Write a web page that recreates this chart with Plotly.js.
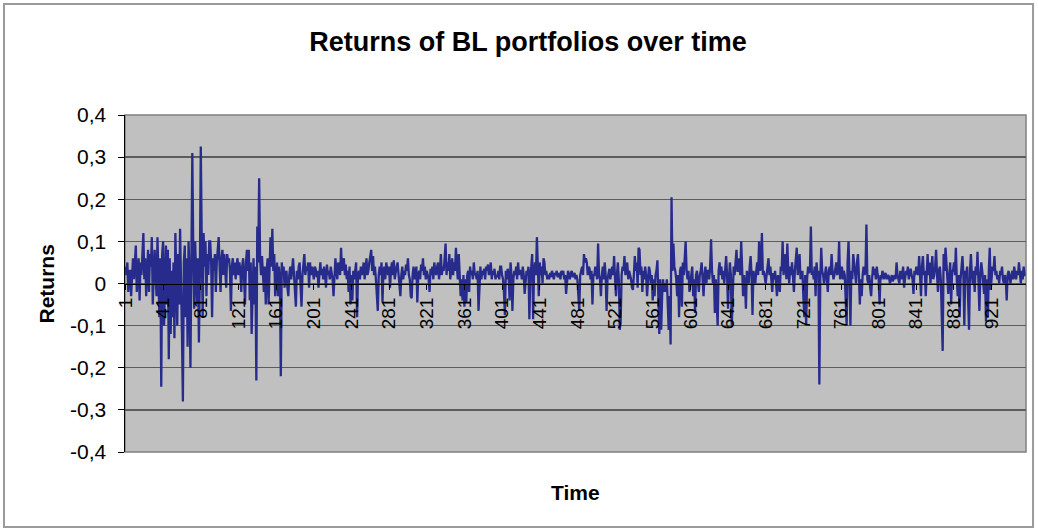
<!DOCTYPE html>
<html>
<head>
<meta charset="utf-8">
<script src="https://cdn.plot.ly/plotly-3.0.1.min.js"></script>
<style>
  html, body { margin: 0; padding: 0; background: #ffffff; }
  #chart { width: 1038px; height: 531px; }
</style>
</head>
<body>
<div id="chart"></div>
<script>
// ---- data ----
const chartTitle = "Returns of BL portfolios over time";
const xTitle = "Time";
const yTitle = "Returns";

const returnsA = [
  0.04, 0.02, 0.05, -0.02, 0.03, 0.03, -0.03, 0.04, 0.06, 0.01,
  0.05, 0.09, -0.02, 0.04, 0.06, -0.04, 0.05, 0.02, 0.07, 0.12,
  0.01, 0.06, -0.03, 0.05, 0.08, -0.02, 0.07, 0.04, 0.11, -0.05,
  0.05, 0.08, 0.02, -0.03, 0.11, 0.02, -0.08, 0.06, -0.245, 0.07,
  0.1, -0.1, 0.04, 0.09, -0.05, 0.08, -0.18, 0.06, -0.12, 0.03,
  -0.08, 0.05, -0.13, 0.12, 0.02, -0.1, 0.07, -0.05, 0.13, 0.04,
  -0.12, -0.28, 0.05, 0.09, -0.08, 0.06, -0.15, 0.1, 0.02, -0.2,
  0.05, 0.31, 0.08, -0.06, 0.1, 0.03, -0.05, 0.06, -0.14, 0.02,
  0.325, 0.1, -0.08, 0.12, 0.04, 0.1, -0.03, 0.07, 0.02, 0.1,
  0.1, 0.05, -0.08, 0.06, 0.03, 0.07, -0.02, 0.05, 0.08, 0.11,
  0.04, -0.02, 0.06, 0.08, 0.02, 0.07, 0.03, -0.01, 0.07, 0.05,
  0.06, 0.03, -0.065, 0.04, 0.06, 0.02, 0.05, 0.01, 0.04, 0.06,
  0.02, 0.05, 0.03, -0.02, 0.04, 0.06, 0.01, -0.05, 0.05, 0.08,
  0.03, 0.08, -0.04, 0.05, -0.12, 0.02, 0.06, -0.05, 0.04, -0.23,
  0.135, 0.05, 0.25, 0.06, 0.02, 0.065, 0.03, -0.02, 0.04, -0.05,
  0.03, 0.06, -0.05, 0.02, 0.11, 0.04, 0.13, 0.03, 0.07, -0.03,
  0.025, 0.05, -0.03, 0.04, 0.01, -0.22, 0.05, 0.02, 0.04, -0.01,
  0.025, 0.03, -0.01, -0.03, 0.02, 0.04, 0.01, 0.03, 0.06, 0.02,
  -0.02, -0.055, 0.03, 0.01, 0.04, 0.05, -0.01, -0.055, 0.02, 0.04,
  0.07, 0.02, 0.04, 0.03, 0.05, -0.01, 0.05, 0.02, 0.04, 0.03
];
const returnsB = [
  0.01, 0.04, 0.035, 0.015, 0.03, -0.01, 0.04, 0.05, 0.02, 0.035,
  0.01, 0.04, 0.02, -0.01, 0.045, 0.02, 0.03, 0.01, 0.04, 0.02,
  0.01, -0.03, 0.02, 0.06, 0.03, 0.01, 0.05, 0.04, 0.02, 0.085,
  0.03, 0.05, 0.06, 0.02, 0.045, 0.01, 0.03, -0.02, 0.04, -0.05,
  0.02, -0.04, 0.03, 0.01, 0.04, 0.05, -0.08, 0.02, 0.03, 0.01,
  0.04, 0.02, 0.03, 0.05, 0.01, 0.04, 0.06, 0.02, 0.03, 0.05,
  0.07, 0.08, 0.03, 0.065, 0.02, 0.04, 0.01, -0.03, -0.065, 0.02,
  0.04, 0.02, 0.05, -0.045, 0.03, 0.04, 0.01, 0.05, 0.03, 0.02,
  0.04, -0.01, 0.03, 0.05, 0.02, 0.055, 0.01, 0.03, 0.04, 0.05,
  0.02, -0.01, -0.03, 0.02, 0.04, 0.01, 0.03, 0.02, 0.045, 0.03,
  0.06, 0.02, 0.01, -0.03, -0.035, 0.02, 0.04, 0.01, 0.03, 0.04,
  -0.045, 0.02, 0.03, 0.01, 0.045, 0.03, 0.06, 0.02, 0.04, 0.01,
  0.03, 0.02, 0.01, -0.02, 0.035, 0.02, 0.04, 0.01, 0.05, 0.03,
  0.02, 0.04, 0.05, 0.01, 0.03, 0.07, 0.02, 0.04, 0.03, 0.06,
  0.095, 0.02, 0.05, 0.03, 0.07, 0.01, 0.04, 0.06, 0.02, 0.05,
  0.03, 0.085, 0.04, 0.01, 0.07, 0.02, -0.03, 0.01, -0.04, 0.02,
  -0.055, 0.01, -0.045, 0.02, 0.03, -0.02, 0.04, 0.02, 0.03, 0.01,
  0.05, 0.02, 0.025, 0.01, 0.03, -0.065, 0.02, 0.04, 0.01, 0.03,
  0.02, 0.035, 0.01, 0.04, 0.03, 0.045, 0.02, 0.03, 0.05, 0.01,
  0.03, 0.02, 0.035, 0.01, 0.02, 0.015, 0.03, 0.01, 0.04, 0.04
];
const returnsC = [
  0.02, 0.01, -0.02, -0.075, 0.03, 0.01, 0.035, 0.02, -0.04, 0.05,
  0.02, -0.065, 0.01, 0.03, 0.02, 0.04, 0.01, 0.05, 0.02, 0.03,
  0.03, 0.01, 0.04, 0.02, -0.025, 0.01, 0.03, 0.02, 0.04, -0.085,
  0.02, 0.04, 0.07, -0.085, 0.03, 0.05, 0.02, 0.11, 0.04, -0.03,
  0.05, 0.02, 0.04, 0.0, 0.06, 0.05, 0.02, 0.03, 0.01, 0.02,
  0.01, 0.025, 0.015, 0.03, 0.02, 0.01, 0.025, 0.02, 0.03, 0.015,
  0.02, 0.025, 0.01, 0.03, 0.02, 0.03, 0.01, 0.02, -0.025, 0.01,
  0.03, 0.02, 0.01, 0.025, 0.03, 0.015, 0.02, 0.025, 0.01, 0.02,
  0.01, -0.05, -0.065, 0.02, 0.03, 0.04, 0.02, 0.07, 0.05, 0.06,
  0.05, 0.02, 0.04, 0.035, 0.01, 0.03, -0.05, 0.02, 0.02, 0.04,
  0.03, 0.01, 0.095, 0.02, 0.01, -0.03, 0.02, 0.04, 0.01, 0.05,
  0.02, -0.065, 0.01, 0.03, 0.035, 0.01, 0.025, 0.04, 0.02, 0.065,
  0.01, -0.03, 0.02, 0.05, 0.01, -0.11, -0.09, 0.02, 0.04, 0.03,
  0.065, 0.02, 0.03, 0.05, 0.01, 0.03, 0.02, 0.01, -0.01, -0.015,
  0.02, 0.065, 0.03, 0.05, -0.01, 0.085, 0.08, 0.02, 0.04, -0.02,
  0.03, 0.01, 0.04, 0.02, -0.03, 0.01, 0.04, 0.03, 0.0, 0.02,
  -0.04, 0.01, -0.03, 0.02, 0.03, 0.055, -0.05, -0.12, 0.01, -0.11,
  -0.03, 0.01, -0.02, 0.0, -0.02, 0.01, -0.05, -0.11, -0.03, -0.145,
  0.205, 0.03, 0.095, 0.04, 0.03, 0.01, -0.03, 0.02, -0.08, 0.03,
  0.04, -0.055, 0.05, 0.02, 0.06, 0.1, 0.03, 0.01, 0.03, -0.02
];
const returnsD = [
  0.0, 0.02, 0.04, -0.03, 0.01, -0.07, 0.02, 0.03, 0.01, -0.02,
  0.02, 0.03, 0.05, 0.01, -0.03, 0.02, 0.04, 0.0, 0.03, 0.03,
  0.01, 0.04, 0.105, 0.03, 0.0, 0.02, -0.07, 0.01, -0.05, -0.1,
  0.03, 0.05, 0.02, 0.04, 0.01, 0.03, 0.0, 0.03, 0.065, 0.02,
  -0.06, 0.01, 0.05, 0.02, -0.1, -0.03, 0.04, 0.02, 0.06, 0.08,
  0.03, 0.03, 0.06, 0.02, 0.1, 0.01, -0.03, 0.02, 0.0, -0.06,
  0.03, 0.01, 0.0, 0.04, 0.065, 0.02, -0.075, 0.03, 0.01, 0.0,
  0.03, 0.05, 0.02, 0.1, 0.03, 0.04, 0.12, 0.02, 0.03, 0.01,
  0.0, 0.02, 0.04, 0.06, 0.02, 0.04, 0.01, -0.02, 0.025, 0.01,
  0.03, -0.01, -0.03, 0.02, 0.0, -0.02, 0.04, 0.03, 0.1, 0.02,
  0.05, 0.07, 0.01, 0.095, 0.03, 0.0, 0.04, 0.02, 0.05, 0.01,
  -0.02, 0.03, 0.05, 0.085, 0.02, 0.04, 0.07, 0.01, 0.025, 0.03,
  -0.03, -0.08, 0.02, -0.1, 0.01, 0.04, 0.025, 0.03, 0.135, 0.02,
  0.03, 0.01, 0.04, -0.03, 0.05, 0.02, 0.03, -0.24, 0.01, 0.085,
  0.03, 0.02, 0.0, 0.03, 0.04, 0.01, -0.02, 0.03, 0.04, 0.02,
  0.07, 0.03, 0.01, 0.02, 0.04, 0.05, 0.02, 0.03, 0.1, 0.01,
  0.02, 0.04, 0.01, 0.03, 0.02, -0.03, -0.1, 0.05, 0.1, 0.02,
  -0.1, 0.03, 0.01, 0.07, 0.04, 0.03, 0.0, 0.05, 0.07, 0.02,
  -0.05, 0.01, -0.03, 0.02, 0.04, 0.02, 0.03, 0.14, 0.01, 0.0,
  0.02, -0.01, -0.03, 0.01, 0.04, 0.02, 0.035, 0.01, 0.04, 0.02
];
const returnsE = [
  0.01, -0.05, 0.02, 0.01, 0.03, 0.02, 0.01, 0.025, 0.02, 0.01,
  0.02, 0.015, 0.0, 0.01, 0.02, 0.005, 0.015, 0.02, 0.01, 0.05,
  0.02, 0.01, 0.0, 0.03, 0.01, 0.02, 0.04, -0.01, 0.02, 0.03,
  0.02, 0.04, 0.01, 0.03, 0.035, 0.02, 0.01, -0.025, 0.03, 0.02,
  0.04, 0.03, 0.02, 0.065, 0.01, -0.03, 0.04, 0.065, 0.02, 0.03,
  -0.03, 0.04, 0.07, 0.02, 0.05, 0.0, 0.03, 0.065, 0.01, 0.02,
  0.04, 0.08, 0.02, -0.02, 0.03, 0.04, 0.01, -0.06, -0.16, 0.07,
  0.03, 0.085, 0.04, 0.01, -0.025, 0.02, 0.05, -0.05, 0.03, 0.03,
  0.05, 0.02, 0.085, 0.01, -0.03, 0.02, -0.08, 0.01, 0.03, 0.065,
  0.02, -0.1, 0.03, 0.02, 0.04, -0.02, -0.11, 0.03, 0.07, 0.02,
  0.0, 0.03, -0.02, 0.04, 0.02, 0.075, 0.01, -0.065, 0.02, 0.05,
  0.03, 0.01, -0.025, 0.02, -0.09, 0.01, -0.08, 0.03, 0.085, -0.015,
  0.02, 0.04, 0.03, 0.065, 0.02, 0.03, 0.01, 0.02, 0.0, 0.03,
  0.02, 0.04, 0.01, 0.0, 0.02, 0.01, -0.04, 0.02, 0.03, 0.01,
  0.0, 0.02, 0.03, 0.01, 0.04, 0.02, 0.01, 0.03, 0.02, 0.05,
  0.02, 0.0, 0.03, 0.01, 0.04, 0.02, 0.02
];

const returns = returnsA.concat(returnsB, returnsC, returnsD, returnsE);
const periods = returns.map((_, k) => k + 1);

const xTickValues = [1, 41, 81, 121, 161, 201, 241, 281, 321, 361, 401, 441, 481, 521, 561, 601, 641, 681, 721, 761, 801, 841, 881, 921];
const xTickLabels = ["1", "41", "81", "121", "161", "201", "241", "281", "321", "361", "401", "441", "481", "521", "561", "601", "641", "681", "721", "761", "801", "841", "881", "921"];
const yTickValues = [-0.4, -0.3, -0.2, -0.1, 0, 0.1, 0.2, 0.3, 0.4];
const yTickLabels = ["-0,4", "-0,3", "-0,2", "-0,1", "0", "0,1", "0,2", "0,3", "0,4"];

// ---- chart ----
const FONT = "Liberation Sans, Arial, sans-serif";

const trace = {
  type: "scatter",
  mode: "lines",
  x: periods,
  y: returns,
  line: { color: "#272b8c", width: 2.3 },
  hoverinfo: "x+y",
  showlegend: false
};

const layout = {
  width: 1038,
  height: 531,
  margin: { l: 125, r: 12, t: 115, b: 79, pad: 0 },
  paper_bgcolor: "#ffffff",
  plot_bgcolor: "#c0c0c0",
  font: { family: FONT, color: "#000000", size: 20 },
  title: {
    text: "<b>" + chartTitle + "</b>",
    font: { family: FONT, size: 27, color: "#000000" },
    xref: "container", yref: "container",
    x: 0.5087, y: 0.921, xanchor: "center", yanchor: "middle"
  },
  xaxis: {
    range: [0.5, returns.length + 0.5],
    anchor: "free",
    position: 0.5,
    showgrid: false,
    zeroline: false,
    showline: true,
    linecolor: "#000000",
    linewidth: 1.5,
    tickmode: "array",
    tickvals: xTickValues,
    ticktext: xTickLabels,
    tickangle: -90,
    ticks: "outside",
    ticklen: 5,
    tickcolor: "#000000",
    tickfont: { family: FONT, size: 19, color: "#000000" }
  },
  yaxis: {
    range: [-0.4, 0.4],
    showgrid: true,
    gridcolor: "#5c5c5c",
    gridwidth: 1.3,
    zeroline: false,
    showline: true,
    linecolor: "#000000",
    linewidth: 1.5,
    tickmode: "array",
    tickvals: yTickValues,
    ticktext: yTickLabels,
    ticks: "outside",
    ticklen: 6,
    tickcolor: "#000000",
    ticklabelstandoff: 7,
    tickfont: { family: FONT, size: 21, color: "#000000" }
  },
  shapes: [
    { type: "rect", xref: "paper", yref: "paper", x0: 0, x1: 1, y0: 0, y1: 1,
      line: { color: "#808080", width: 1.5 }, fillcolor: "rgba(0,0,0,0)", layer: "below" },
    { type: "rect", xref: "paper", yref: "paper", x0: -0.1343, x1: 1.0078, y0: -0.2226, y1: 1.3294,
      line: { color: "#9a9a9a", width: 2 }, fillcolor: "rgba(0,0,0,0)", layer: "below" }
  ],
  annotations: [
    { text: "<b>" + xTitle + "</b>", xref: "paper", yref: "paper", x: 0.5, y: -0.1187,
      xanchor: "center", yanchor: "middle", showarrow: false,
      font: { family: FONT, size: 21, color: "#000000" } },
    { text: "<b>" + yTitle + "</b>", xref: "paper", yref: "paper", x: -0.0866, y: 0.5,
      xanchor: "center", yanchor: "middle", textangle: -90, showarrow: false,
      font: { family: FONT, size: 21, color: "#000000" } }
  ]
};

Plotly.newPlot("chart", [trace], layout, { displayModeBar: false, staticPlot: true });
</script>
</body>
</html>
